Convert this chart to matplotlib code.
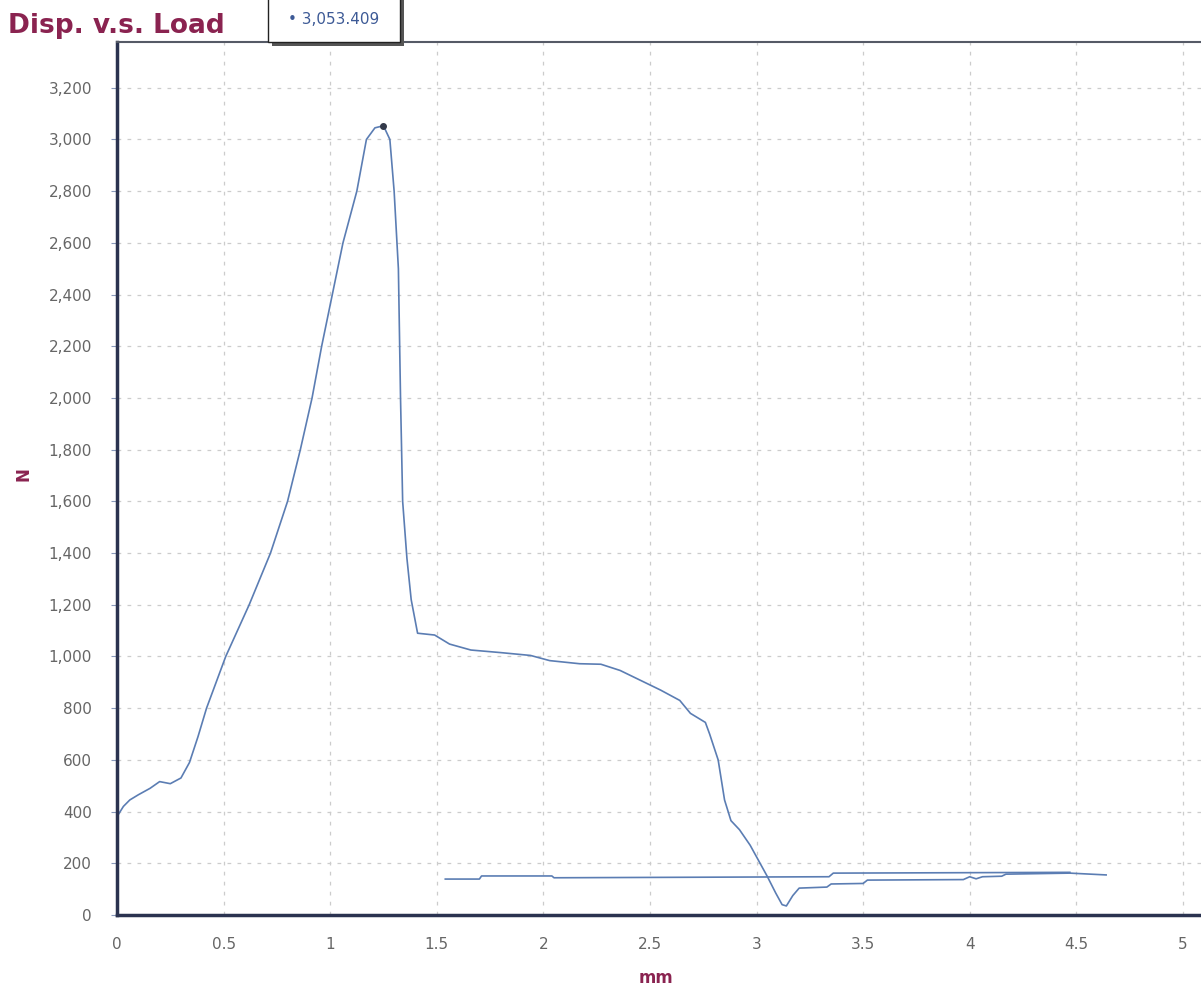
import numpy as np
import matplotlib.pyplot as plt
from matplotlib.patches import Rectangle
from matplotlib.ticker import FuncFormatter

# displacement (mm) vs load (N)
disp = [0, 0, 0.005, 0.03, 0.06, 0.1, 0.155, 0.2, 0.25, 0.3, 0.34, 0.38, 0.42,
        0.51, 0.62, 0.72, 0.80, 0.86, 0.915, 0.96, 1.01, 1.06, 1.125, 1.17,
        1.21, 1.25, 1.28, 1.30, 1.32, 1.33, 1.34, 1.36, 1.38, 1.41, 1.49, 1.56,
        1.66, 1.80, 1.94, 2.03, 2.17, 2.27, 2.36, 2.45, 2.55, 2.64, 2.69, 2.76,
        2.78, 2.82, 2.85, 2.88, 2.92, 2.97, 3.0, 3.05, 3.09, 3.12, 3.14, 3.17,
        3.2, 3.33, 3.35, 3.5, 3.52, 3.97, 4.0, 4.03, 4.06, 4.15, 4.17, 4.47, 4.64]
load = [0, 250, 387, 420, 445, 465, 490, 516, 508, 530, 590, 690, 800,
        1000, 1200, 1400, 1600, 1800, 2000, 2200, 2400, 2600, 2800, 3000,
        3045, 3053, 3000, 2800, 2500, 2000, 1600, 1380, 1220, 1090, 1083, 1048,
        1025, 1015, 1004, 984, 972, 970, 946, 910, 870, 830, 780, 745,
        700, 600, 445, 365, 330, 270, 225, 150, 85, 40, 35, 75,
        104, 108, 120, 122, 135, 137, 148, 140, 148, 150, 158, 162, 155]

# flat return trace near the bottom
ret_disp = [1.54, 1.70, 1.71, 2.04, 2.05, 3.34, 3.36, 4.47]
ret_load = [139, 139, 151, 151, 144, 148, 162, 165]

peak_x, peak_y = 1.25, 3053.409

xticks = np.arange(0, 5.01, 0.5)
yticks = np.arange(0, 3201, 200)

maroon = '#8a2350'
line_c = '#5b7db3'
spine_c = '#2b3350'
narrow = ['Liberation Sans Narrow', 'DejaVu Sans Condensed', 'DejaVu Sans']

fig = plt.figure(figsize=(12.01, 9.94), dpi=100)
ax = fig.add_axes([117/1201, 79/994, 1084/1201, 873/994])

ax.plot(disp, load, color=line_c, lw=1.2)
ax.plot(ret_disp, ret_load, color=line_c, lw=1.2)
ax.plot([peak_x], [peak_y], 'o', color='#333a4a', ms=4)

ax.set_xlim(0, 5.085)
ax.set_ylim(0, 3377)
ax.set_xticks(xticks)
ax.set_yticks(yticks)
ax.xaxis.set_major_formatter(FuncFormatter(lambda v, p: ('%g' % v)))
ax.yaxis.set_major_formatter(FuncFormatter(lambda v, p: '{:,.0f}'.format(v)))
for lab in ax.get_xticklabels() + ax.get_yticklabels():
    lab.set_family(narrow)
    lab.set_fontsize(11)
    lab.set_color('#666666')
ax.tick_params(axis='y', length=4, color='#8899bb', pad=14)
ax.tick_params(axis='x', length=0, pad=16)

ax.grid(True, color='#cccccc', linestyle=(0, (3, 5)), lw=0.9)
ax.set_axisbelow(True)

ax.spines['right'].set_visible(False)
ax.spines['left'].set_color(spine_c)
ax.spines['left'].set_linewidth(2.5)
ax.spines['bottom'].set_color(spine_c)
ax.spines['bottom'].set_linewidth(2.5)
ax.spines['top'].set_color('#555a66')
ax.spines['top'].set_linewidth(1.5)

ax.set_xlabel('mm', family=narrow, fontsize=12, fontweight='bold', color=maroon)
ax.xaxis.set_label_coords(0.497, -0.062)
ax.set_ylabel('N', family=narrow, fontsize=12, fontweight='bold', color=maroon)
ax.yaxis.set_label_coords(-0.078, 0.505)

fig.text(8/1201, 1 - 26/994, 'Disp. v.s. Load', family=narrow, fontsize=19,
         fontweight='bold', color=maroon, va='center', ha='left')

# value tooltip box
fig.patches.append(Rectangle((272/1201, 1 - 46/994), 132/1201, 50/994,
                             transform=fig.transFigure, facecolor='#555555',
                             edgecolor='none', zorder=5))
fig.patches.append(Rectangle((268/1201, 1 - 42/994), 132/1201, 46/994,
                             transform=fig.transFigure, facecolor='white',
                             edgecolor='#222222', lw=1, zorder=6))
fig.text(334/1201, 1 - 20/994, u'\u2022 3,053.409', family=narrow, fontsize=11,
         color='#3d5a96', ha='center', va='center', zorder=7)

fig.savefig('out.png', dpi=100)
